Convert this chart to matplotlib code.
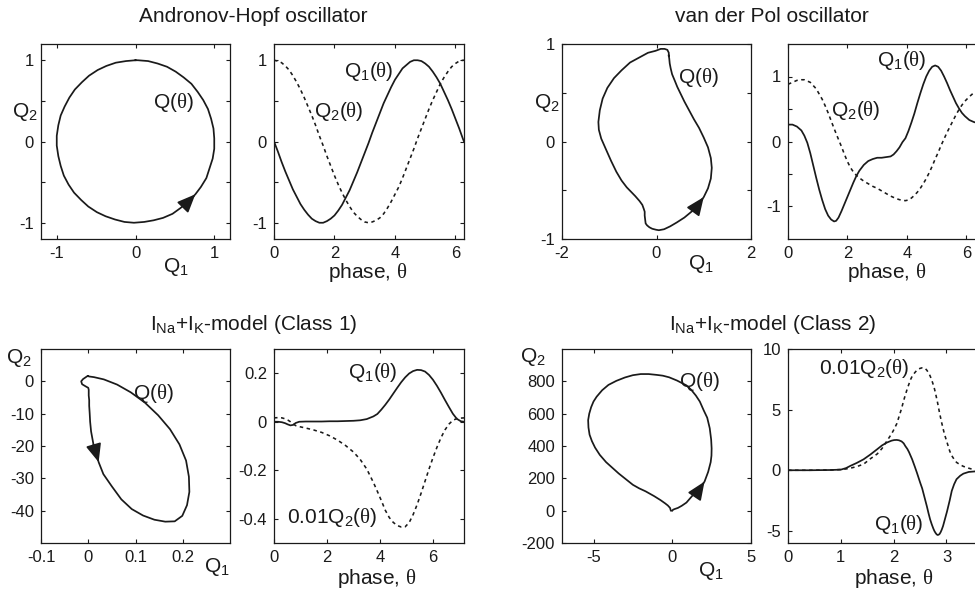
import numpy as np
import matplotlib
matplotlib.use('Agg')
import matplotlib.pyplot as plt

plt.rcParams['font.family'] = ['Liberation Sans', 'DejaVu Sans']
plt.rcParams['mathtext.fontset'] = 'custom'
plt.rcParams['mathtext.rm'] = 'Liberation Sans'
plt.rcParams['mathtext.it'] = 'Liberation Serif'
plt.rcParams['mathtext.bf'] = 'Liberation Sans:bold'
plt.rcParams['axes.unicode_minus'] = False

# ---------------- data ----------------
# Andronov-Hopf oscillator
ah_theta = [0.0, 0.125, 0.25, 0.375, 0.5, 0.625, 0.75, 0.875, 1.0, 1.125, 1.25, 1.375, 1.5,
            1.625, 1.75, 1.875, 2.0, 2.125, 2.25, 2.375, 2.5, 2.625, 2.75, 2.875, 3.0, 3.125,
            3.25, 3.375, 3.5, 3.625, 3.75, 3.875, 4.0, 4.125, 4.25, 4.375, 4.5, 4.625, 4.75,
            4.875, 5.0, 5.125, 5.25, 5.375, 5.5, 5.625, 5.75, 5.875, 6.0, 6.125, 6.25, 6.283]
ah_q1 = [0.00, -0.12, -0.25, -0.37, -0.48, -0.59, -0.68, -0.77, -0.84, -0.90, -0.95, -0.98, -1.00,
         -1.00, -0.98, -0.95, -0.91, -0.85, -0.78, -0.69, -0.60, -0.49, -0.38, -0.26, -0.14, -0.02,
         0.11, 0.23, 0.35, 0.47, 0.57, 0.67, 0.76, 0.83, 0.90, 0.94, 0.98, 1.00, 1.00,
         0.99, 0.96, 0.92, 0.86, 0.79, 0.71, 0.61, 0.51, 0.40, 0.28, 0.16, 0.03, 0.00]
ah_q2 = [1.00, 0.99, 0.97, 0.93, 0.88, 0.81, 0.73, 0.64, 0.54, 0.43, 0.32, 0.20, 0.07,
         -0.05, -0.18, -0.30, -0.42, -0.53, -0.63, -0.72, -0.80, -0.87, -0.92, -0.96, -0.99, -1.00,
         -0.99, -0.97, -0.94, -0.89, -0.82, -0.74, -0.65, -0.56, -0.45, -0.33, -0.21, -0.09, 0.04,
         0.16, 0.28, 0.40, 0.51, 0.61, 0.71, 0.79, 0.86, 0.92, 0.96, 0.99, 1.00, 1.00]

# van der Pol oscillator
vdp_theta = [0.00, 0.15, 0.30, 0.45, 0.55, 0.65, 0.75, 0.85, 0.95, 1.05, 1.15, 1.25, 1.35, 1.45,
             1.55, 1.62, 1.70, 1.80, 1.90, 2.00, 2.10, 2.20, 2.30, 2.40, 2.55, 2.70, 2.85, 3.00,
             3.15, 3.30, 3.45, 3.55, 3.65, 3.75, 3.85, 3.95, 4.05, 4.15, 4.25, 4.35, 4.45, 4.55,
             4.65, 4.75, 4.85, 4.95, 5.05, 5.15, 5.25, 5.35, 5.45, 5.55, 5.65, 5.75, 5.85, 5.95,
             6.10, 6.25, 6.40, 6.55, 6.66]
vdp_q1 = [0.26, 0.26, 0.23, 0.17, 0.09, -0.02, -0.18, -0.37, -0.56, -0.74, -0.90, -1.04, -1.14,
          -1.20, -1.23, -1.22, -1.17, -1.07, -0.96, -0.85, -0.74, -0.63, -0.53, -0.45, -0.36,
          -0.30, -0.27, -0.25, -0.25, -0.24, -0.23, -0.20, -0.15, -0.09, -0.01, 0.05, 0.16, 0.29,
          0.43, 0.59, 0.74, 0.88, 1.00, 1.09, 1.15, 1.17, 1.15, 1.09, 1.00, 0.90, 0.79, 0.69,
          0.59, 0.51, 0.44, 0.39, 0.33, 0.30, 0.28, 0.27, 0.26]
vdp_q2 = [0.88, 0.91, 0.94, 0.95, 0.95, 0.93, 0.91, 0.86, 0.81, 0.73, 0.65, 0.55, 0.44, 0.32,
          0.20, 0.12, 0.03, -0.08, -0.20, -0.31, -0.40, -0.47, -0.52, -0.56, -0.61, -0.65, -0.69,
          -0.72, -0.76, -0.80, -0.84, -0.86, -0.88, -0.895, -0.905, -0.91, -0.90, -0.87, -0.83,
          -0.78, -0.72, -0.65, -0.57, -0.48, -0.38, -0.27, -0.17, -0.06, 0.04, 0.14, 0.23, 0.32,
          0.41, 0.49, 0.56, 0.62, 0.69, 0.75, 0.80, 0.85, 0.88]

# INa+IK model, Class 1
c1_theta = [0.0, 0.15, 0.3, 0.42, 0.52, 0.62, 0.72, 0.82, 0.95, 1.2, 1.5, 1.8, 2.1, 2.4, 2.7,
            3.0, 3.25, 3.5, 3.75, 3.9, 4.05, 4.2, 4.35, 4.5, 4.65, 4.8, 4.95, 5.1, 5.25, 5.4,
            5.55, 5.7, 5.85, 6.0, 6.15, 6.3, 6.45, 6.6, 6.75, 6.9, 7.05, 7.17]
c1_q1 = [0.000, 0.000, -0.002, -0.006, -0.011, -0.015, -0.013, -0.005, 0.000, 0.001, 0.001,
         0.001, 0.002, 0.002, 0.003, 0.004, 0.006, 0.011, 0.022, 0.032, 0.050, 0.070, 0.092,
         0.116, 0.140, 0.163, 0.183, 0.199, 0.209, 0.214, 0.213, 0.207, 0.193, 0.173, 0.148,
         0.120, 0.090, 0.061, 0.033, 0.012, 0.002, 0.000]
c1_q2 = [1.6, 1.7, 1.6, 1.2, 0.7, 0.0, -0.9, -1.6, -2.0, -2.6, -3.4, -4.4, -5.8, -7.6, -9.8,
         -12.5, -15.5, -19.5, -25.0, -28.7, -32.5, -36.5, -39.5, -41.5, -42.8, -43.4, -43.3,
         -41.6, -38.3, -34.2, -29.5, -24.5, -19.5, -14.8, -10.5, -6.6, -3.4, -1.0, 0.6, 1.3,
         1.5, 1.6]

# INa+IK model, Class 2
c2_theta = [0.0, 0.4, 0.8, 1.0, 1.1, 1.18, 1.3, 1.43, 1.56, 1.69, 1.78, 1.87, 1.96, 2.01, 2.06,
            2.1, 2.15, 2.19, 2.22, 2.26, 2.29, 2.32, 2.35, 2.4, 2.44, 2.47, 2.5, 2.54, 2.57, 2.6,
            2.63, 2.66, 2.69, 2.72, 2.75, 2.77, 2.79, 2.81, 2.83, 2.85, 2.87, 2.89, 2.91, 2.935,
            2.96, 2.985, 3.01, 3.035, 3.06, 3.08, 3.1, 3.145, 3.19, 3.26, 3.32, 3.42, 3.53, 3.6]
c2_q1 = [0.0, 0.0, 0.02, 0.05, 0.18, 0.36, 0.6, 0.9, 1.3, 1.74, 2.05, 2.28, 2.44, 2.49, 2.5,
         2.47, 2.38, 2.22, 2.0, 1.75, 1.5, 1.2, 0.9, 0.3, -0.2, -0.6, -1.0, -1.5, -2.0, -2.5,
         -3.0, -3.55, -4.05, -4.45, -4.8, -5.0, -5.15, -5.27, -5.34, -5.32, -5.25, -5.1, -4.9,
         -4.6, -4.2, -3.8, -3.4, -2.95, -2.5, -2.1, -1.7, -1.15, -0.74, -0.45, -0.28, -0.14,
         -0.1, -0.08]
c2_q2 = [0, 0, 2, 6, 11, 17, 30, 50, 95, 135, 180, 240, 300, 340, 385, 440, 510, 575, 620, 675,
         712, 748, 775, 805, 825, 835, 840, 845, 845, 838, 824, 803, 778, 745, 705, 675, 640,
         600, 560, 515, 470, 430, 390, 345, 300, 265, 230, 195, 160, 138, 120, 90, 65, 45, 32,
         17, 3, 0]

# ---------------- layout ----------------
W, H = 975, 591
fig = plt.figure(figsize=(W / 100, H / 100), dpi=100)
INK = '#1a1a1a'
FS = 15


def box(x0, y0, x1, y1):
    return [x0 / W, 1 - y1 / H, (x1 - x0) / W, (y1 - y0) / H]


def ftext(x, y, s, size=FS, **kw):
    fig.text(x / W, 1 - y / H, s, fontsize=size, ha='center', va='center', color=INK, **kw)


def atext(ax, x, y, s):
    ax.text(x, y, s, fontsize=FS, ha='center', va='center', color=INK)


def style(ax, xlim, ylim, xticks, xtl, yticks, ytl):
    ax.set_xlim(xlim)
    ax.set_ylim(ylim)
    ax.set_xticks(xticks)
    ax.set_xticklabels(xtl)
    ax.set_yticks(yticks)
    ax.set_yticklabels(ytl)
    ax.tick_params(direction='in', length=3, width=0.8, top=True, right=True,
                   labelsize=12, pad=5, colors=INK, labelcolor=INK)
    for s in ax.spines.values():
        s.set_linewidth(0.9)
        s.set_color(INK)


def arrow(ax, x, y, i):
    ax.annotate('', xy=(x[i], y[i]), xytext=(x[i - 1], y[i - 1]),
                arrowprops=dict(arrowstyle='-|>,head_length=0.8,head_width=0.34',
                                color=INK, lw=1.2, shrinkA=0, shrinkB=0, mutation_scale=14))


LW = 1.25
DLW = 1.15
DASH = (0, (2.2, 2.2))
TH = r'($\theta$)'

# --- Andronov-Hopf ---
ax = fig.add_axes(box(41, 44, 230, 239))
ax.plot(ah_q1, ah_q2, color=INK, lw=LW, solid_joinstyle='round')
arrow(ax, ah_q1, ah_q2, ah_theta.index(4.0))
style(ax, (-1.2, 1.2), (-1.2, 1.2), [-1, 0, 1], ['-1', '0', '1'],
      [-1, -0.5, 0, 0.5, 1], ['-1', '', '0', '', '1'])
atext(ax, 0.48, 0.48, 'Q' + TH)

ax = fig.add_axes(box(274, 44, 464, 239))
ax.plot(ah_theta, ah_q1, color=INK, lw=LW, solid_joinstyle='round')
ax.plot(ah_theta, ah_q2, color=INK, lw=DLW, linestyle=DASH)
style(ax, (0, 2 * np.pi), (-1.2, 1.2), [0, 2, 4, 6], ['0', '2', '4', '6'],
      [-1, -0.5, 0, 0.5, 1], ['-1', '', '0', '', '1'])
atext(ax, 3.15, 0.86, r'Q$_1$' + TH)
atext(ax, 2.15, 0.37, r'Q$_2$' + TH)

ftext(253, 17, 'Andronov-Hopf oscillator')
ftext(176, 267, r'Q$_1$')
ftext(25, 112, r'Q$_2$')
ftext(368, 273, r'phase, $\theta$')

# --- van der Pol ---
ax = fig.add_axes(box(562, 44, 751, 239))
ax.plot(vdp_q1, vdp_q2, color=INK, lw=LW, solid_joinstyle='round')
arrow(ax, vdp_q1, vdp_q2, vdp_theta.index(4.65))
style(ax, (-2, 2), (-1, 1), [-2, 0, 2], ['-2', '0', '2'],
      [-1, -0.5, 0, 0.5, 1], ['-1', '', '0', '', '1'])
atext(ax, 0.89, 0.66, 'Q' + TH)

ax = fig.add_axes(box(788, 44, 986, 239))
ax.plot(vdp_theta, vdp_q1, color=INK, lw=LW, solid_joinstyle='round')
ax.plot(vdp_theta, vdp_q2, color=INK, lw=DLW, linestyle=DASH)
style(ax, (0, 6.66), (-1.5, 1.5), [0, 2, 4, 6], ['0', '2', '4', '6'],
      [-1, -0.5, 0, 0.5, 1], ['-1', '', '0', '', '1'])
atext(ax, 3.84, 1.24, r'Q$_1$' + TH)
atext(ax, 2.29, 0.47, r'Q$_2$' + TH)

ftext(772, 17, 'van der Pol oscillator')
ftext(701, 264, r'Q$_1$')
ftext(547, 103, r'Q$_2$')
ftext(887, 272, r'phase, $\theta$')

# --- Class 1 ---
ax = fig.add_axes(box(41, 349, 230, 543))
ax.plot(c1_q1, c1_q2, color=INK, lw=LW, solid_joinstyle='round')
arrow(ax, c1_q1, c1_q2, c1_theta.index(3.75))
style(ax, (-0.1, 0.3), (-50, 10), [-0.1, 0, 0.1, 0.2], ['-0.1', '0', '0.1', '0.2'],
      [-40, -30, -20, -10, 0], ['-40', '-30', '-20', '-10', '0'])
atext(ax, 0.137, -3.9, 'Q' + TH)

ax = fig.add_axes(box(274, 349, 464, 543))
ax.plot(c1_theta, c1_q1, color=INK, lw=LW, solid_joinstyle='round')
ax.plot(c1_theta, [0.01 * v for v in c1_q2], color=INK, lw=DLW, linestyle=DASH)
style(ax, (0, 7.17), (-0.5, 0.3), [0, 2, 4, 6], ['0', '2', '4', '6'],
      [-0.4, -0.2, 0, 0.2], ['-0.4', '-0.2', '0', '0.2'])
atext(ax, 3.74, 0.203, r'Q$_1$' + TH)
atext(ax, 2.21, -0.393, r'0.01Q$_2$' + TH)

ftext(254, 324, r'I$_{\mathrm{Na}}$+I$_{\mathrm{K}}$-model (Class 1)')
ftext(217, 567, r'Q$_1$')
ftext(19, 358, r'Q$_2$')
ftext(377, 578, r'phase, $\theta$')

# --- Class 2 ---
ax = fig.add_axes(box(562, 349, 751, 543))
ax.plot(c2_q1, c2_q2, color=INK, lw=LW, solid_joinstyle='round')
arrow(ax, c2_q1, c2_q2, c2_theta.index(1.78))
style(ax, (-7, 5), (-200, 1000), [-5, 0, 5], ['-5', '0', '5'],
      [-200, 0, 200, 400, 600, 800], ['-200', '0', '200', '400', '600', '800'])
atext(ax, 1.7, 802, 'Q' + TH)

ax = fig.add_axes(box(788, 349, 984, 543))
ax.plot(c2_theta, c2_q1, color=INK, lw=LW, solid_joinstyle='round')
ax.plot(c2_theta, [0.01 * v for v in c2_q2], color=INK, lw=DLW, linestyle=DASH)
style(ax, (0, 3.71), (-6, 10), [0, 1, 2, 3], ['0', '1', '2', '3'],
      [-5, 0, 5, 10], ['-5', '0', '5', '10'])
atext(ax, 1.44, 8.43, r'0.01Q$_2$' + TH)
atext(ax, 2.1, -4.5, r'Q$_1$' + TH)

ftext(773, 324, r'I$_{\mathrm{Na}}$+I$_{\mathrm{K}}$-model (Class 2)')
ftext(711, 571, r'Q$_1$')
ftext(533, 357, r'Q$_2$')
ftext(894, 578, r'phase, $\theta$')

fig.savefig('out.png', dpi=100)
